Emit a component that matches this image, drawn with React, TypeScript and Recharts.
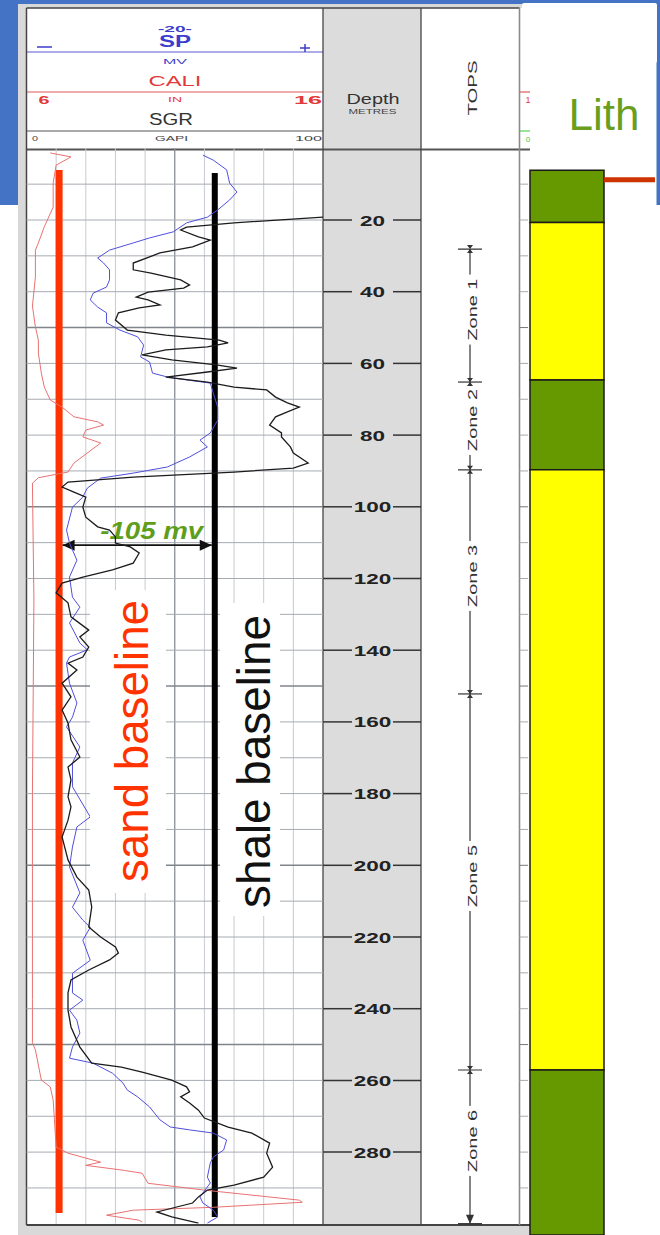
import React from "react";
import {
  ComposedChart,
  Scatter,
  XAxis,
  YAxis,
  ReferenceLine,
  ReferenceArea,
} from "recharts";

const W = 660;
const H = 1235;

// depth window (m) and where it lands on the page
const DEPTH_MIN = 0;
const DEPTH_MAX = 300;
const PLOT_TOP = 148.3;
const PLOT_BOTTOM = 1223.8;

// track edges (px)
const TRACK_L = 26.5;
const TRACK_R = 323;
const DEPTH_R = 421;
const TOPS_R = 519.5;
const PANEL_R = 530;

const BLUE_BG = "#4472c4";
const FONT = "Arial, 'Liberation Sans', Helvetica, sans-serif";

// ---- log curves (depth m / value) ----
const caliDepth = [1.3, 2.4, 4.7, 9.7, 16.4, 21.9, 26.4, 28.4, 36, 44, 49.8, 53.5, 57.1, 62.7, 66.6, 70.2, 72.2, 74.9, 76.3, 77.2, 78.6, 80.5, 82.2, 87.8, 90.3, 91.9, 93.4, 126, 180, 237.5, 249.5, 251.5, 259.9, 261.8, 265.5, 278.6, 280.3, 282.8, 283.7, 285.1, 285.9, 288.7, 290.6, 293.4, 294.0, 295.4, 296.2, 297.6, 299.0, 299.5];
const caliIn = [6.8, 7.5, 7.0, 6.9, 6.9, 6.6, 6.4, 6.3, 6.3, 6.2, 6.3, 6.4, 6.4, 6.5, 6.6, 6.8, 7.2, 7.6, 8.4, 8.6, 8.0, 7.9, 8.5, 7.6, 7.4, 6.4, 6.2, 6.25, 6.2, 6.2, 6.2, 6.3, 6.5, 6.8, 6.9, 7.0, 7.4, 8.5, 8.0, 9.3, 9.9, 10.1, 12.0, 15.2, 15.3, 12.3, 9.6, 8.7, 9.8, 9.9];

const spDepth = [1.9, 3.3, 6.0, 9.7, 12.2, 14.4, 17.2, 19.2, 20.8, 23.3, 25.0, 26.4, 28.4, 30.6, 32.0, 33.9, 36.7, 38.7, 40.4, 42.3, 44.3, 45.9, 48.7, 50.7, 52.6, 54.9, 58.2, 59.6, 62.7, 63.8, 64.6, 65.5, 68.3, 72.2, 75.8, 79.4, 81.4, 83.3, 86.1, 88.9, 90.6, 92.0, 94.8, 97.3, 100.1, 106.5, 110.1, 114.9, 119.6, 125.2, 128.0, 132.4, 138.0, 139.9, 141.9, 143.6, 149.2, 154.7, 158.7, 161.4, 167.0, 171.5, 178.1, 186.5, 189.3, 194.9, 200.5, 207.7, 211.7, 215.3, 217.3, 220.9, 226.5, 230.1, 235.6, 237.6, 240.4, 243.2, 246.8, 250.7, 253.8, 255.2, 258.0, 260.7, 262.7, 264.6, 267.4, 271.0, 273.0, 273.8, 274.7, 276.6, 279.4, 281.4, 283.0, 287.0, 288.6, 292.5, 294.2, 296.2, 298.1, 299.8];
const spMv = [-81, -74, -65, -63, -58, -63, -71, -78, -92, -101, -117, -128, -144, -152, -148, -144, -144, -146, -155, -157, -152, -146, -146, -137, -125, -121, -123, -117, -115, -105, -92, -76, -74, -71, -71, -76, -83, -78, -90, -105, -128, -150, -159, -162, -169, -173, -171, -166, -171, -169, -164, -171, -164, -159, -171, -173, -171, -166, -169, -173, -164, -169, -169, -157, -166, -169, -171, -164, -169, -162, -157, -162, -157, -169, -169, -162, -171, -166, -164, -169, -171, -155, -142, -135, -132, -125, -117, -110, -103, -90, -74, -65, -67, -74, -76, -78, -76, -83, -81, -74, -71, -78];

const grDepth = [19.2, 20.8, 22.0, 22.8, 24.7, 25.6, 27.5, 29.2, 32.0, 33.9, 34.8, 36.7, 38.1, 39.0, 40.1, 41.5, 42.3, 43.7, 44.5, 45.9, 47.9, 50.7, 52.1, 53.5, 54.3, 55.4, 56.2, 57.6, 59.0, 60.4, 61.3, 62.4, 63.8, 65.2, 66.6, 67.4, 69.4, 71.0, 72.2, 73.5, 74.9, 77.2, 79.4, 80.5, 83.3, 85.0, 87.8, 89.2, 90.3, 91.7, 93.1, 94.5, 95.9, 97.3, 100.1, 102.9, 105.6, 106.5, 108.4, 110.1, 111.2, 112.9, 115.7, 117.6, 119.6, 121.3, 124.0, 126.8, 130.7, 134.4, 136.3, 139.1, 141.9, 143.6, 145.5, 149.2, 153.0, 156.7, 160.3, 165.0, 169.8, 172.6, 176.2, 180.9, 183.7, 187.4, 192.1, 198.5, 203.3, 206.9, 211.6, 217.2, 220.0, 222.8, 224.5, 226.4, 229.2, 232.0, 235.6, 240.4, 245.1, 250.7, 255.2, 256.3, 257.7, 259.9, 261.8, 263.2, 264.6, 266.3, 268.3, 270.5, 273.0, 274.7, 277.5, 280.3, 284.2, 287.0, 289.2, 290.6, 292.5, 294.2, 296.7, 298.1, 299.8];
const grApi = [100, 70, 54, 52, 58, 62, 56, 45, 36, 36, 42, 52, 55, 53, 41, 37, 41, 45, 38, 31, 30, 34, 47, 65, 68, 61, 47, 39, 49, 64, 71, 61, 47, 61, 70, 81, 84, 88, 92, 88, 84, 82, 86, 86, 89, 90, 95, 90, 70, 36, 14, 12, 16, 20, 19, 20, 24, 28, 30, 30, 35, 38, 36, 29, 19, 12, 10, 14, 15, 21, 18, 21, 19, 14, 17, 12, 15, 12, 14, 15, 18, 14, 15, 14, 15, 14, 12, 14, 17, 21, 22, 21, 25, 30, 31, 28, 21, 15, 14, 14, 15, 18, 22, 32, 39, 49, 54, 55, 52, 55, 58, 60, 68, 76, 82, 81, 83, 80, 70, 61, 58, 56, 44, 49, 58];

// SP baselines (mV) and the depths they are drawn over
const SAND_MV = -178;
const SHALE_MV = -73;
const sandSpan = [6.05, 297];
const shaleSpan = [6.9, 298.1];
const deflectionDepth = 110.7;

// depth track labels
const DEPTH_TICKS = [20, 40, 60, 80, 100, 120, 140, 160, 180, 200, 220, 240, 260, 280];

// formation tops
const topDepths = [28.1, 65.2, 89.7, 152.2, 257.1];
const zoneNames = ["Zone 1", "Zone 2", "Zone 3", "Zone 5", "Zone 6"];
const minorTopDepth = 36.6;
const tdDepth = 300;

// lithology column
const lithTop = [6.1, 20.7, 64.6, 89.7, 257.1];
const lithBase = [20.7, 64.6, 89.7, 257.1, 303.1];
const lithKind = ["shale", "sand", "shale", "sand", "shale"];
const LITH_COLORS: Record<string, string> = { shale: "#669900", sand: "#ffff00" };
const flagDepth = 8.8;

// ---- chart B horizontal layout (px from depth track left edge) ----
const DEPTH_LABEL_X = 372.5 - TRACK_R;
const TOPS_X = 470 - TRACK_R;
const SMALL_X1 = TOPS_R - TRACK_R;
const SMALL_X2 = 528 - TRACK_R;
const LITH_X1 = 530 - TRACK_R;
const LITH_X2 = 604 - TRACK_R;
const FLAG_X2 = 655 - TRACK_R;

const cali = caliDepth.map((d, i) => ({ d, v: caliIn[i] }));
const sp = spDepth.map((d, i) => ({ d, v: spMv[i] }));
const gr = grDepth.map((d, i) => ({ d, v: grApi[i] }));
const depthLabels = DEPTH_TICKS.map((d) => ({ x: DEPTH_LABEL_X, d }));
const tops = topDepths.map((d) => ({ x: TOPS_X, d }));
const zoneBounds = [...topDepths, tdDepth];
const zones = zoneNames.map((name, i) => ({
  x: TOPS_X,
  d: (zoneBounds[i] + zoneBounds[i + 1]) / 2,
  name,
}));

const gridDepths = Array.from({ length: 29 }, (_, i) => (i + 1) * 10);
const gridApi = [10, 20, 30, 40, 50, 60, 70, 80, 90];

const NoDot = () => <g />;

function Txt({ x, y, size, len, fill = "#333", anchor = "middle", weight = "normal", children }: any) {
  return (
    <text
      x={x}
      y={y}
      fontSize={size}
      fontFamily={FONT}
      fontWeight={weight}
      fill={fill}
      textAnchor={anchor}
      textLength={len}
      lengthAdjust="spacingAndGlyphs"
    >
      {children}
    </text>
  );
}

function Frame() {
  const blue = "#3d3dcc";
  const red = "#e23a3a";
  return (
    <svg width={W} height={H} style={{ position: "absolute", left: 0, top: 0 }}>
      <rect width={W} height={H} fill="#fff" />
      <rect x={0} y={0} width={W} height={6} fill={BLUE_BG} />
      <rect x={0} y={0} width={18} height={205} fill={BLUE_BG} />
      <rect x={656.5} y={0} width={3.5} height={205} fill={BLUE_BG} />
      <rect x={18} y={4} width={PANEL_R - 18} height={H - 4} fill="#d9d9d9" />

      <rect x={TRACK_L} y={8} width={TRACK_R - TRACK_L} height={1217} fill="#fff" />
      <rect x={TRACK_R} y={8} width={DEPTH_R - TRACK_R} height={1217} fill="#dcdcdc" />
      <rect x={DEPTH_R} y={8} width={TOPS_R - DEPTH_R} height={1217} fill="#fff" />
      <rect x={TOPS_R} y={8} width={PANEL_R - TOPS_R} height={1217} fill="#fff" />

      {/* header dividers */}
      <line x1={TRACK_L} x2={TRACK_R} y1={52} y2={52} stroke="#5b5bd6" strokeWidth={1.2} />
      <line x1={TRACK_L} x2={TRACK_R} y1={92} y2={92} stroke="#e05a5a" strokeWidth={1.2} />
      <line x1={TRACK_L} x2={TRACK_R} y1={131} y2={131} stroke="#555" strokeWidth={1.2} />
      <line x1={TRACK_L} x2={PANEL_R} y1={149.5} y2={149.5} stroke="#555" strokeWidth={2.2} />

      {/* borders */}
      <line x1={TRACK_L} x2={TOPS_R} y1={8} y2={8} stroke="#444" strokeWidth={1.5} />
      <line x1={TRACK_L} x2={PANEL_R} y1={1225} y2={1225} stroke="#444" strokeWidth={1.8} />
      <line x1={TRACK_L} x2={TRACK_L} y1={8} y2={1225} stroke="#444" strokeWidth={1.5} />
      <line x1={TRACK_R} x2={TRACK_R} y1={8} y2={1225} stroke="#444" strokeWidth={1.3} />
      <line x1={DEPTH_R} x2={DEPTH_R} y1={8} y2={1225} stroke="#444" strokeWidth={1.3} />
      <line x1={TOPS_R} x2={TOPS_R} y1={8} y2={1225} stroke="#8a8a8a" strokeWidth={1.6} />

      {/* curve header */}
      <Txt x={175} y={32} size={9} len={34} fill={blue} weight="bold">-20-</Txt>
      <Txt x={175} y={47} size={16} len={32} fill={blue} weight="bold">SP</Txt>
      <line x1={37} x2={52} y1={47} y2={47} stroke={blue} strokeWidth={1.5} />
      <line x1={300} x2={310} y1={48} y2={48} stroke={blue} strokeWidth={1.5} />
      <line x1={305} x2={305} y1={44} y2={52} stroke={blue} strokeWidth={1.5} />
      <Txt x={175} y={63.5} size={7} len={24} fill={blue}>MV</Txt>
      <Txt x={175} y={85.5} size={15} len={53} fill={red}>CALI</Txt>
      <Txt x={44} y={103.5} size={10} len={11} fill={red} weight="bold">6</Txt>
      <Txt x={175} y={102} size={7} len={14} fill={red}>IN</Txt>
      <Txt x={322} y={103.5} size={10} len={28} fill={red} weight="bold" anchor="end">16</Txt>
      <Txt x={171} y={124.5} size={16} len={44} fill="#333">SGR</Txt>
      <Txt x={32} y={140.5} size={8} len={6} fill="#444" anchor="start">0</Txt>
      <Txt x={171.5} y={140.5} size={8} len={33} fill="#444">GAPI</Txt>
      <Txt x={322} y={140.5} size={8} len={27} fill="#444" anchor="end">100</Txt>

      {/* depth + tops headers */}
      <Txt x={373} y={104} size={14} len={53} fill="#333">Depth</Txt>
      <Txt x={372.5} y={114} size={7.5} len={48} fill="#444">METRES</Txt>
      <text
        transform="translate(477 88) rotate(-90)"
        textAnchor="middle"
        fontSize={13}
        fontFamily={FONT}
        fill="#333"
        textLength={55}
        lengthAdjust="spacingAndGlyphs"
      >
        TOPS
      </text>

      {/* partially hidden track header */}
      <line x1={520} x2={PANEL_R} y1={92} y2={92} stroke="#e05a5a" strokeWidth={1.2} />
      <Txt x={528} y={103} size={9} fill={red}>1</Txt>
      <line x1={520} x2={PANEL_R} y1={131} y2={131} stroke="#55d055" strokeWidth={1.2} />
      <Txt x={528} y={141.5} size={8} fill="#44c444">0</Txt>

      {/* Lith header overlay */}
      <rect x={522} y={3} width={135} height={60} rx={2} fill="#fff" />
      <text x={604} y={130} textAnchor="middle" fontSize={44} fontFamily={FONT} fill="#6b9e1f">
        Lith
      </text>
    </svg>
  );
}

function DeflectionArrow(p: any) {
  const { x1, y1, x2 } = p;
  const l = x1 + 3.5;
  const r = x2 - 3;
  return (
    <g>
      <line x1={l} x2={r} y1={y1} y2={y1} stroke="#111" strokeWidth={1.6} />
      <polygon points={`${l},${y1} ${l + 12},${y1 - 5.5} ${l + 12},${y1 + 5.5}`} fill="#111" />
      <polygon points={`${r},${y1} ${r - 12},${y1 - 5.5} ${r - 12},${y1 + 5.5}`} fill="#111" />
      <text
        x={(l + r) / 2 + 14.5}
        y={y1 - 6}
        textAnchor="middle"
        fontSize={24}
        fontFamily={FONT}
        fontWeight="bold"
        fontStyle="italic"
        fill="#5f9e1b"
        textLength={103}
        lengthAdjust="spacingAndGlyphs"
      >
        {`${SAND_MV - SHALE_MV} mv`}
      </text>
    </g>
  );
}

function CurvesChart() {
  return (
    <ComposedChart
      width={W}
      height={H}
      margin={{ top: PLOT_TOP, bottom: H - PLOT_BOTTOM, left: TRACK_L, right: W - TRACK_R }}
    >
      <XAxis xAxisId="sp" type="number" dataKey="v" domain={[-200, 0]} hide allowDataOverflow />
      <XAxis xAxisId="gr" type="number" dataKey="v" domain={[0, 100]} hide allowDataOverflow />
      <XAxis xAxisId="cali" type="number" dataKey="v" domain={[6, 16]} hide allowDataOverflow />
      <YAxis yAxisId="d" type="number" dataKey="d" domain={[DEPTH_MIN, DEPTH_MAX]} reversed hide allowDataOverflow />

      {gridApi.map((v) => (
        <ReferenceLine
          key={`v${v}`}
          xAxisId="gr"
          yAxisId="d"
          x={v}
          stroke={v === 50 ? "#8a8f98" : "#c6cad1"}
          strokeWidth={v === 50 ? 1.3 : 1}
        />
      ))}
      {gridDepths.map((d) => (
        <ReferenceLine
          key={`h${d}`}
          xAxisId="gr"
          yAxisId="d"
          y={d}
          stroke={d % 50 === 0 ? "#80858c" : "#a6abb2"}
          strokeWidth={d % 50 === 0 ? 1.5 : 1}
        />
      ))}

      <Scatter data={cali} xAxisId="cali" yAxisId="d" line={{ stroke: "#e87272", strokeWidth: 1 }} shape={NoDot} isAnimationActive={false} />
      <Scatter data={sp} xAxisId="sp" yAxisId="d" line={{ stroke: "#4f4fdc", strokeWidth: 1 }} shape={NoDot} isAnimationActive={false} />
      <Scatter data={gr} xAxisId="gr" yAxisId="d" line={{ stroke: "#1c1c1c", strokeWidth: 1.3 }} shape={NoDot} isAnimationActive={false} />

      <ReferenceLine
        xAxisId="sp"
        yAxisId="d"
        segment={[{ x: SAND_MV, y: sandSpan[0] }, { x: SAND_MV, y: sandSpan[1] }]}
        stroke="#ff3300"
        strokeWidth={7}
      />
      <ReferenceLine
        xAxisId="sp"
        yAxisId="d"
        segment={[{ x: SHALE_MV, y: shaleSpan[0] }, { x: SHALE_MV, y: shaleSpan[1] }]}
        stroke="#000"
        strokeWidth={6}
      />
      <ReferenceLine
        xAxisId="sp"
        yAxisId="d"
        segment={[{ x: SAND_MV, y: deflectionDepth }, { x: SHALE_MV, y: deflectionDepth }]}
        shape={DeflectionArrow}
      />
    </ComposedChart>
  );
}

function DepthLabel(p: any) {
  const { cx, cy, payload } = p;
  const label = String(payload.d);
  return (
    <g>
      <line x1={TRACK_R} x2={352} y1={cy} y2={cy} stroke="#333" strokeWidth={1.5} />
      <line x1={393} x2={DEPTH_R} y1={cy} y2={cy} stroke="#333" strokeWidth={1.5} />
      <text
        x={cx}
        y={cy + 5.5}
        textAnchor="middle"
        fontSize={15}
        fontWeight="bold"
        fontFamily={FONT}
        fill="#222"
        textLength={label.length * 12.5}
        lengthAdjust="spacingAndGlyphs"
      >
        {label}
      </text>
    </g>
  );
}

function TopMarker(p: any) {
  const { cx, cy } = p;
  return (
    <g>
      <line x1={cx - 12} x2={cx + 12} y1={cy} y2={cy} stroke="#333" strokeWidth={1.2} />
      <polygon
        points={`${cx - 3},${cy - 4} ${cx + 3},${cy - 4} ${cx - 3},${cy + 4} ${cx + 3},${cy + 4}`}
        fill="#333"
      />
    </g>
  );
}

function ZoneLabel(p: any) {
  const { cx, cy, payload } = p;
  const y = cy - 6;
  return (
    <g>
      <rect x={cx - 7} y={y - 35} width={14} height={70} fill="#fff" />
      <text
        transform={`translate(${cx + 6.5} ${y}) rotate(-90)`}
        textAnchor="middle"
        fontSize={13}
        fontFamily={FONT}
        fill="#333"
        textLength={62}
        lengthAdjust="spacingAndGlyphs"
      >
        {payload.name}
      </text>
    </g>
  );
}

function TopsStem(p: any) {
  const { x1, y1, x2, y2 } = p;
  return (
    <g>
      <line x1={x1} x2={x2} y1={y1} y2={y2} stroke="#333" strokeWidth={1.2} />
      <polygon points={`${x2},${y2} ${x2 - 4},${y2 - 9} ${x2 + 4},${y2 - 9}`} fill="#333" />
      <line x1={x2 - 12} x2={x2 + 12} y1={y2} y2={y2} stroke="#333" strokeWidth={1.5} />
    </g>
  );
}

function TracksChart() {
  return (
    <ComposedChart
      width={W}
      height={H}
      margin={{ top: PLOT_TOP, bottom: H - PLOT_BOTTOM, left: TRACK_R, right: 0 }}
    >
      <XAxis xAxisId="t" type="number" dataKey="x" domain={[0, W - TRACK_R]} hide allowDataOverflow />
      <YAxis yAxisId="d" type="number" dataKey="d" domain={[DEPTH_MIN, DEPTH_MAX]} reversed hide allowDataOverflow />

      {gridDepths.map((d) => (
        <ReferenceLine
          key={`s${d}`}
          xAxisId="t"
          yAxisId="d"
          segment={[{ x: SMALL_X1, y: d }, { x: SMALL_X2, y: d }]}
          stroke={d % 50 === 0 ? "#777" : "#aaa"}
          strokeWidth={1}
        />
      ))}

      <Scatter data={depthLabels} xAxisId="t" yAxisId="d" shape={DepthLabel} isAnimationActive={false} />

      <ReferenceLine
        xAxisId="t"
        yAxisId="d"
        segment={[{ x: TOPS_X, y: topDepths[0] }, { x: TOPS_X, y: tdDepth }]}
        shape={TopsStem}
        ifOverflow="visible"
      />
      <ReferenceLine
        xAxisId="t"
        yAxisId="d"
        segment={[{ x: TOPS_X - 5, y: minorTopDepth }, { x: TOPS_X + 5, y: minorTopDepth }]}
        stroke="#333"
        strokeWidth={1.2}
      />
      <Scatter data={zones} xAxisId="t" yAxisId="d" shape={ZoneLabel} isAnimationActive={false} />
      <Scatter data={tops} xAxisId="t" yAxisId="d" shape={TopMarker} isAnimationActive={false} />

      {lithTop.map((t, i) => (
        <ReferenceArea
          key={`l${i}`}
          xAxisId="t"
          yAxisId="d"
          x1={LITH_X1}
          x2={LITH_X2}
          y1={t}
          y2={lithBase[i]}
          fill={LITH_COLORS[lithKind[i]]}
          fillOpacity={1}
          stroke="#1a1a1a"
          strokeWidth={1.5}
          ifOverflow="visible"
        />
      ))}
      <ReferenceLine
        xAxisId="t"
        yAxisId="d"
        segment={[{ x: LITH_X2, y: flagDepth }, { x: FLAG_X2, y: flagDepth }]}
        stroke="#cc3300"
        strokeWidth={5}
        ifOverflow="visible"
      />
    </ComposedChart>
  );
}

function BaselineText() {
  return (
    <svg width={W} height={H} style={{ position: "absolute", left: 0, top: 0 }}>
      <rect x={90} y={590} width={76} height={303} fill="#fff" />
      <rect x={220} y={603} width={60} height={313} fill="#fff" />
      <text
        transform="translate(148 741) rotate(-90)"
        textAnchor="middle"
        fontSize={47}
        fontFamily={FONT}
        fill="#ff3300"
        textLength={282}
        lengthAdjust="spacingAndGlyphs"
      >
        sand baseline
      </text>
      <text
        transform="translate(270 761.5) rotate(-90)"
        textAnchor="middle"
        fontSize={47}
        fontFamily={FONT}
        fill="#111"
        textLength={293}
        lengthAdjust="spacingAndGlyphs"
      >
        shale baseline
      </text>
    </svg>
  );
}

const layer: React.CSSProperties = { position: "absolute", left: 0, top: 0 };

export default function App() {
  return (
    <div style={{ position: "absolute", left: 0, top: 0, width: W, height: H, overflow: "hidden", background: "#fff" }}>
      <Frame />
      <div style={layer}>
        <CurvesChart />
      </div>
      <BaselineText />
      <div style={layer}>
        <TracksChart />
      </div>
    </div>
  );
}
